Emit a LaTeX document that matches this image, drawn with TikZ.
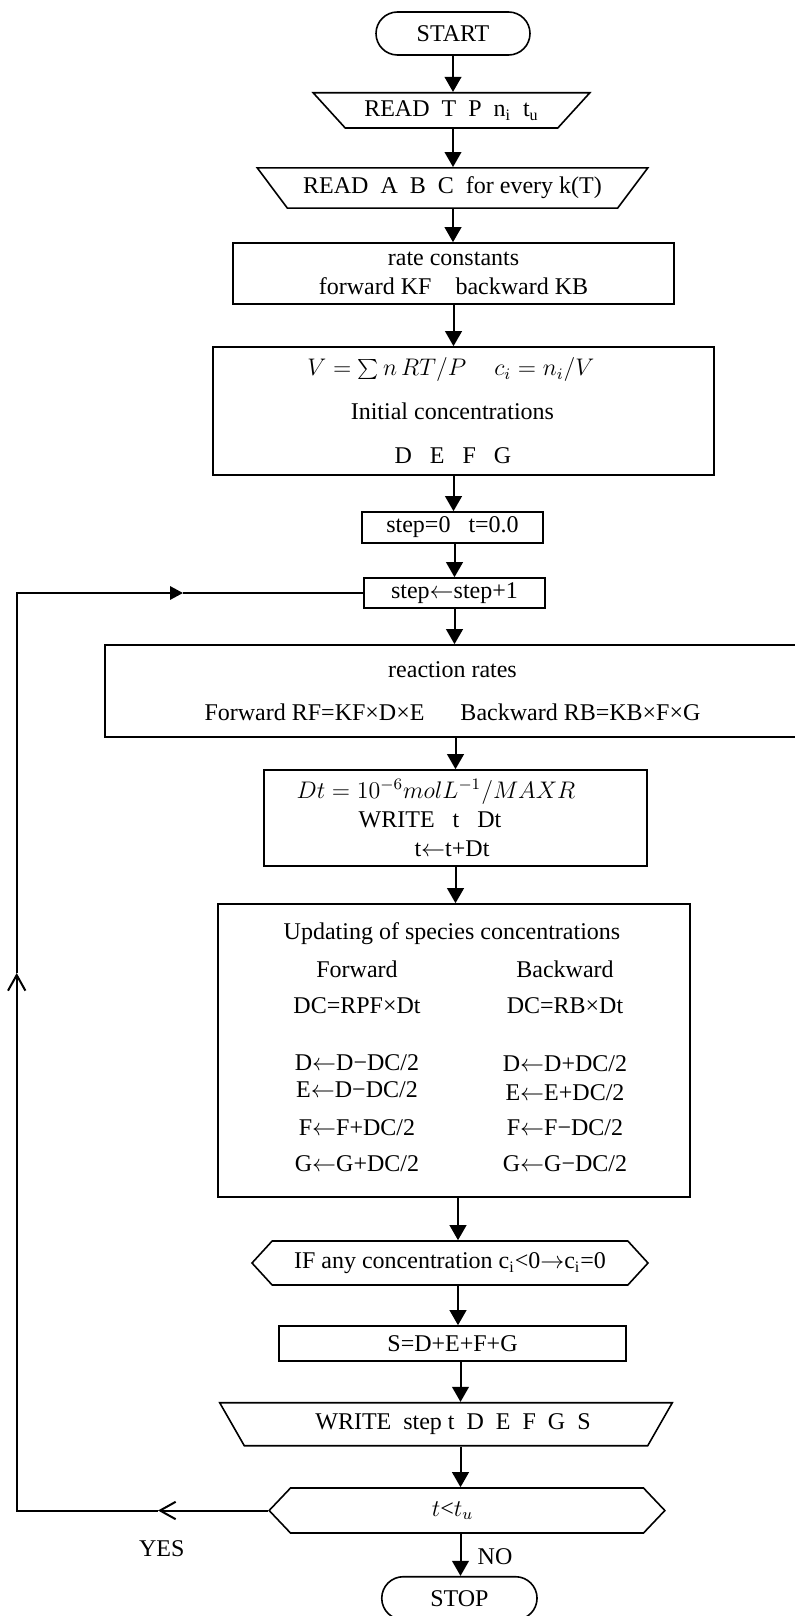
\documentclass[tikz,border=0pt]{standalone}
\usepackage{fontspec}
\setmainfont{Liberation Serif}
\usetikzlibrary{shapes.geometric,shapes.symbols,arrows.meta}

\newcommand{\lar}{\ensuremath{\leftarrow}}
\newcommand{\rar}{\ensuremath{\rightarrow}}

\tikzset{
  base/.style={draw, line width=0.8pt, inner sep=2pt, align=center, font=\fontsize{12}{14.4}\selectfont},
  term/.style={base, rectangle, rounded corners=10.75pt},
  proc/.style={base, rectangle},
  io/.style={base, trapezium, trapezium stretches=true},
  prep/.style={base, signal, signal to=west and east},
  txt/.style={inner sep=0pt, text height=8pt, text depth=0pt, font=\fontsize{12}{14.4}\selectfont},
  arr/.style={line width=1pt, -{Triangle[length=7.5pt,width=8.3pt]}},
  barb/.style={line width=1pt, -{Straight Barb[length=7.8pt,width=8.7pt]}},
  loopin/.style={line width=1pt, -{Triangle[length=6.5pt,width=6.7pt]}}
}

\begin{document}
\begin{tikzpicture}[x=0.5pt,y=-0.5pt]
	\useasboundingbox (0,0) rectangle (795,1616);

	% top part
	\node [term, minimum width=77pt, minimum height=21.5pt] (start) at (453,33.5) {START};
	\node [io, trapezium left angle=135, trapezium right angle=135, minimum width=138.5pt, minimum height=17.65pt] (readin) at (451.5,110.4) {READ~~T~~P~~n\textsubscript{i}~~t\textsubscript{u}};
	\node [io, trapezium left angle=133, trapezium right angle=133, minimum width=195.5pt, minimum height=20.15pt] (readabc) at (452.5,188) {READ~~A~~B~~C~~for every k(T)};
	\node [proc, minimum width=220.5pt, minimum height=30.5pt] (rates) at (453.5,273.5) {rate constants\\forward KF\quad backward KB};
	\node [proc, minimum width=250.5pt, minimum height=64pt] (conc) at (463.4,411) {$V=\sum n\,RT/P$\hspace{14pt}$c_i=n_i/V$\rule{12.5pt}{0pt}\\[7.6pt]Initial concentrations\rule{11pt}{0pt}\\[7.6pt]D~~~E~~~F~~~G\rule{10.5pt}{0pt}};
	\node [proc, minimum width=90.5pt, minimum height=15.5pt] (init) at (452.5,527.5) {step=0~~~t=0.0};
	\node [proc, minimum width=90.5pt, minimum height=15pt] (inc) at (454.5,593) {step\lar step+1};

	% loop body
	\node [proc, minimum width=347.5pt, minimum height=46pt] (react) at (452.5,691) {reaction rates\\[7pt]Forward RF=KF×D×E\hspace{18pt}Backward RB=KB×F×G};
	\node [proc, minimum width=191.5pt, minimum height=48pt] (dt) at (455.5,818) {$Dt=10^{-6}molL^{-1}/MAXR$\rule{19.5pt}{0pt}\\WRITE~~~t~~~Dt\rule{25.5pt}{0pt}\\t\lar t+Dt\rule{3.5pt}{0pt}};
	\node [proc, minimum width=236pt, minimum height=146.5pt] (upd) at (454,1050.5) {};
	\node [txt] (updtitle) at (452,931.7) {Updating of species concentrations};
	\node [txt] (fwd) at (357,969) {Forward};
	\node [txt] (bwd) at (565,969) {Backward};
	\node [txt] (fdc) at (357,1005) {DC=RPF×Dt};
	\node [txt] (bdc) at (565,1005) {DC=RB×Dt};
	\node [txt] (fd) at (357,1062) {D\lar D−DC/2};
	\node [txt] (bd) at (565,1063) {D\lar D+DC/2};
	\node [txt] (fe) at (357,1089) {E\lar D−DC/2};
	\node [txt] (be) at (565,1092) {E\lar E+DC/2};
	\node [txt] (ff) at (357,1127) {F\lar F+DC/2};
	\node [txt] (bf) at (565,1127) {F\lar F−DC/2};
	\node [txt] (fg) at (357,1163) {G\lar G+DC/2};
	\node [txt] (bg) at (565,1163) {G\lar G−DC/2};

	\node [prep, signal pointer angle=95, minimum width=198pt, minimum height=22pt] (clip) at (450,1263) {IF any concentration c\textsubscript{i}<0\rar c\textsubscript{i}=0};
	\node [proc, minimum width=173.5pt, minimum height=17.5pt] (sum) at (452.5,1343.5) {S=D+E+F+G};
	\node [io, trapezium left angle=122, trapezium right angle=122, minimum width=226.85pt, minimum height=21.5pt] (wrout) at (446,1424.2) {\rule{7pt}{0pt}WRITE~~step t~~D~~E~~F~~G~~S};
	\node [prep, signal pointer angle=93, minimum width=197.85pt, minimum height=22.5pt] (test) at (467,1510.5) {$t$<$t_u$\rule{14.5pt}{0pt}};
	\node [term, minimum width=77.65pt, minimum height=21.5pt] (stop) at (459.4,1598.2) {STOP};
	\node [txt] (yes) at (161.7,1548) {YES};
	\node [txt] (no) at (495,1556.7) {NO};

	% main flow
	\draw [arr] (start.south) -- (start.south |- readin.north);
	\draw [arr] (start.south |- readin.south) -- (start.south |- readabc.north);
	\draw [arr] (start.south |- readabc.south) -- (start.south |- rates.north);
	\draw [arr] (rates.south) -- (rates.south |- conc.north);
	\draw [arr] (rates.south |- conc.south) -- (rates.south |- init.north);
	\draw [arr] (init.south -| inc.north) -- (inc.north);
	\draw [arr] (inc.south) -- (inc.south |- react.north);
	\draw [arr] (dt.north |- react.south) -- (dt.north);
	\draw [arr] (dt.south) -- (dt.south |- upd.north);
	\draw [arr] ([xshift=2pt]upd.south) -- ([xshift=2pt]upd.south |- clip.north);
	\draw [arr] ([xshift=2pt]upd.south |- clip.south) -- ([xshift=2pt]upd.south |- sum.north);
	\draw [arr] ([xshift=4pt]sum.south) -- ([xshift=4pt]sum.south |- wrout.north);
	\draw [arr] ([xshift=4pt]sum.south |- wrout.south) -- ([xshift=4pt]sum.south |- test.north);
	\draw [arr] ([xshift=4pt]sum.south |- test.south) -- ([xshift=4pt]sum.south |- stop.north);

	% loop back
	\coordinate (yestip) at (158,1510.5);
	\coordinate (cornerbl) at (16.7,1510.5);
	\coordinate (uptip) at (16.7,973);
	\coordinate (cornertl) at (16.7,593);
	\coordinate (looptip) at (183,593);
	\draw [barb] (test.west) -- (yestip);
	\draw [barb] (yestip) -- (cornerbl) -- (uptip);
	\draw [loopin] (uptip) -- (cornertl) -- (looptip);
	\draw [line width=1pt] (looptip) -- (inc.west);

\end{tikzpicture}
\end{document}
